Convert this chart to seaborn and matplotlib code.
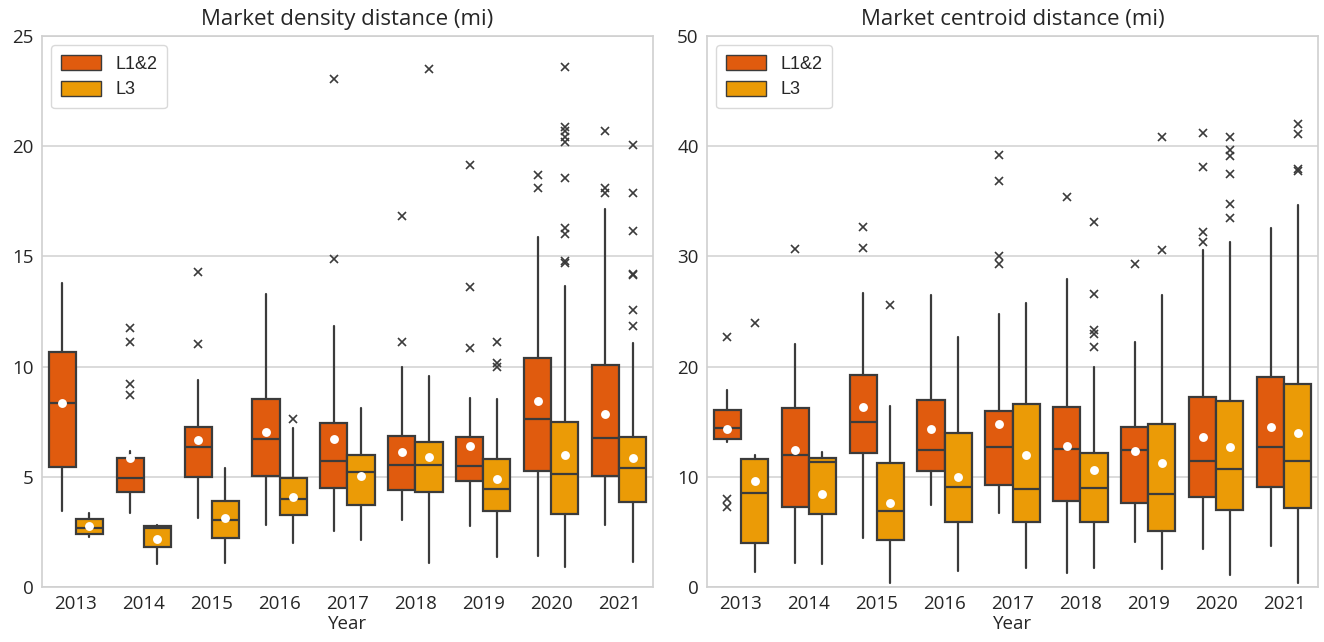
import numpy as np
import pandas as pd
import matplotlib
matplotlib.use("Agg")
import matplotlib.pyplot as plt
import seaborn as sns
from matplotlib.patches import Patch

years = ["2013", "2014", "2015", "2016", "2017", "2018", "2019", "2020", "2021"]
groups = ["L1&2", "L3"]
titles = ["Market density distance (mi)", "Market centroid distance (mi)"]
x_label = "Year"

# ---- Market density distance ----
dens_l12_whislo = [3.43, 3.34, 3.13, 2.82, 2.53, 3.02, 2.76, 1.40, 2.82]
dens_l12_q1 = [5.45, 4.32, 5.00, 5.03, 4.48, 4.38, 4.81, 5.24, 5.03]
dens_l12_med = [8.34, 4.94, 6.35, 6.72, 5.71, 5.52, 5.50, 7.61, 6.77]
dens_l12_q3 = [10.65, 5.84, 7.26, 8.51, 7.44, 6.87, 6.79, 10.41, 10.05]
dens_l12_whishi = [13.77, 6.19, 9.40, 13.28, 11.82, 10.00, 8.59, 15.88, 17.14]
dens_l12_mean = [8.33, 5.83, 6.69, 7.05, 6.70, 6.14, 6.40, 8.46, 7.86]
dens_l12_fliers = [[], [11.75, 11.10, 9.22, 8.73], [14.27, 11.01], [], [23.04, 14.90],
                   [16.85, 11.10], [19.14, 13.60, 10.84], [18.69, 18.12], [20.68, 18.10, 17.87]]

dens_l3_whislo = [2.29, 1.02, 1.07, 2.01, 2.14, 1.10, 1.35, 0.91, 1.12]
dens_l3_q1 = [2.40, 1.83, 2.24, 3.26, 3.70, 4.29, 3.46, 3.31, 3.86]
dens_l3_med = [2.66, 2.68, 3.02, 3.99, 5.21, 5.55, 4.45, 5.11, 5.42]
dens_l3_q3 = [3.08, 2.76, 3.90, 4.94, 6.01, 6.56, 5.81, 7.48, 6.80]
dens_l3_whishi = [3.34, 2.82, 5.42, 7.21, 8.10, 9.59, 8.54, 13.67, 11.06]
dens_l3_mean = [2.76, 2.18, 3.15, 4.07, 5.05, 5.88, 4.90, 6.01, 5.83]
dens_l3_fliers = [[], [], [], [7.60], [], [23.52], [11.10, 10.16, 10.00],
                  [23.57, 20.88, 20.67, 20.42, 20.18, 18.57, 16.28, 16.00, 14.79, 14.71],
                  [20.03, 17.87, 16.17, 14.22, 14.14, 12.55, 11.82]]

# ---- Market centroid distance ----
cent_l12_whislo = [13.12, 2.21, 4.48, 7.40, 6.75, 1.27, 4.09, 3.44, 3.70]
cent_l12_q1 = [13.41, 7.27, 12.14, 10.49, 9.29, 7.82, 7.66, 8.15, 9.03]
cent_l12_med = [14.42, 11.95, 14.97, 12.44, 12.69, 12.53, 12.47, 11.46, 12.69]
cent_l12_q3 = [16.10, 16.27, 19.25, 17.01, 16.01, 16.36, 14.55, 17.24, 19.03]
cent_l12_whishi = [17.86, 22.01, 26.72, 26.49, 24.81, 27.99, 22.27, 30.55, 32.60]
cent_l12_mean = [14.38, 12.44, 16.36, 14.32, 14.81, 12.79, 12.37, 13.60, 14.48]
cent_l12_fliers = [[22.66, 7.99, 7.24], [30.65], [32.66, 30.78], [], [39.22, 36.82, 30.06, 29.35],
                   [35.42], [29.35], [41.20, 38.12, 32.24, 31.30], []]

cent_l3_whislo = [1.33, 2.08, 0.36, 1.49, 1.75, 1.72, 1.66, 1.10, 0.36]
cent_l3_q1 = [4.03, 6.62, 4.25, 5.88, 5.91, 5.88, 5.06, 6.95, 7.18]
cent_l3_med = [8.54, 11.30, 6.85, 9.03, 8.90, 8.96, 8.47, 10.68, 11.40]
cent_l3_q3 = [11.62, 11.69, 11.23, 13.99, 16.59, 12.14, 14.81, 16.85, 18.44]
cent_l3_whishi = [11.98, 12.21, 16.43, 22.69, 25.78, 20.00, 26.49, 31.30, 34.68]
cent_l3_mean = [9.61, 8.47, 7.66, 10.00, 11.98, 10.58, 11.23, 12.69, 13.93]
cent_l3_fliers = [[23.99], [], [25.62], [], [], [33.15, 26.59, 23.31, 22.99, 21.75],
                  [40.84, 30.58], [40.84, 39.64, 39.09, 37.44, 34.77, 33.47],
                  [42.01, 41.10, 37.92, 37.76]]

y_limits = [(0, 25), (0, 50)]
y_ticks = [[0, 5, 10, 15, 20, 25], [0, 10, 20, 30, 40, 50]]

colors = {"L1&2": "#E05B0E", "L3": "#EB9B06"}
line_color = "#3b3b3b"

sns.set_theme(style="whitegrid")
plt.rcParams["font.family"] = ["Open Sans", "DejaVu Sans"]
plt.rcParams["text.color"] = "#262626"
plt.rcParams["axes.labelcolor"] = "#262626"
plt.rcParams["xtick.color"] = "#262626"
plt.rcParams["ytick.color"] = "#262626"


def make_stats(whislo, q1, med, q3, whishi, mean, fliers):
    return [dict(whislo=a, q1=b, med=c, q3=d, whishi=e, mean=m, fliers=f)
            for a, b, c, d, e, m, f in zip(whislo, q1, med, q3, whishi, mean, fliers)]


panels = [
    {
        "L1&2": make_stats(dens_l12_whislo, dens_l12_q1, dens_l12_med, dens_l12_q3,
                           dens_l12_whishi, dens_l12_mean, dens_l12_fliers),
        "L3": make_stats(dens_l3_whislo, dens_l3_q1, dens_l3_med, dens_l3_q3,
                         dens_l3_whishi, dens_l3_mean, dens_l3_fliers),
        "means": {"L1&2": dens_l12_mean, "L3": dens_l3_mean},
    },
    {
        "L1&2": make_stats(cent_l12_whislo, cent_l12_q1, cent_l12_med, cent_l12_q3,
                           cent_l12_whishi, cent_l12_mean, cent_l12_fliers),
        "L3": make_stats(cent_l3_whislo, cent_l3_q1, cent_l3_med, cent_l3_q3,
                         cent_l3_whishi, cent_l3_mean, cent_l3_fliers),
        "means": {"L1&2": cent_l12_mean, "L3": cent_l3_mean},
    },
]

fig, axes = plt.subplots(1, 2, figsize=(13.24, 6.42), dpi=100)
fig.subplots_adjust(left=0.0317, right=0.9955, bottom=0.0857, top=0.944, wspace=0.0884)

base = np.arange(len(years))
offsets = {"L1&2": -0.2, "L3": 0.2}
lw = 1.6

for ax, panel, title, ylim, yt in zip(axes, panels, titles, y_limits, y_ticks):
    for g in groups:
        ax.bxp(panel[g], positions=base + offsets[g], widths=0.4, patch_artist=True,
               showcaps=False, showmeans=False, manage_ticks=False,
               boxprops=dict(facecolor=colors[g], edgecolor=line_color, linewidth=lw),
               medianprops=dict(color=line_color, linewidth=lw),
               whiskerprops=dict(color=line_color, linewidth=lw),
               flierprops=dict(marker="x", markeredgecolor=line_color, markersize=6,
                               markeredgewidth=1.2, linestyle="none"),
               zorder=2)
    df = pd.DataFrame({
        "year": np.repeat([years], 2, axis=0).ravel(),
        "group": np.repeat(groups, len(years)),
        "mean": np.concatenate([panel["means"][g] for g in groups]),
    })
    sns.stripplot(data=df, x="year", y="mean", hue="group", hue_order=groups,
                  order=years, dodge=True, jitter=False, palette=["white", "white"],
                  size=6.4, linewidth=0, legend=False, ax=ax, zorder=10)
    ax.set_xlim(-0.5, len(years) - 0.5)
    ax.set_ylim(*ylim)
    ax.set_yticks(yt)
    ax.set_xticks(base)
    ax.set_xticklabels(years)
    ax.xaxis.grid(False)
    ax.yaxis.grid(True, color="#d4d4d4", linewidth=1.2)
    ax.set_axisbelow(True)
    for s in ax.spines.values():
        s.set_color("#d0d0d0")
        s.set_linewidth(1.2)
    ax.tick_params(axis="both", labelsize=13.5, length=0, pad=6)
    ax.set_xlabel(x_label, fontsize=13.5, labelpad=1)
    ax.set_ylabel("")
    ax.set_title(title, fontsize=16, pad=8)
    handles = [Patch(facecolor=colors[g], edgecolor=line_color, linewidth=1.0, label=g)
               for g in groups]
    ax.legend(handles=handles, loc="upper left", frameon=True,
              prop={"family": ["Liberation Sans", "DejaVu Sans"], "size": 13},
              handlelength=2.2, handleheight=0.9, borderpad=0.55, labelspacing=0.45,
              edgecolor="#d0d0d0", fancybox=True)

fig.savefig("out.png", dpi=100)
